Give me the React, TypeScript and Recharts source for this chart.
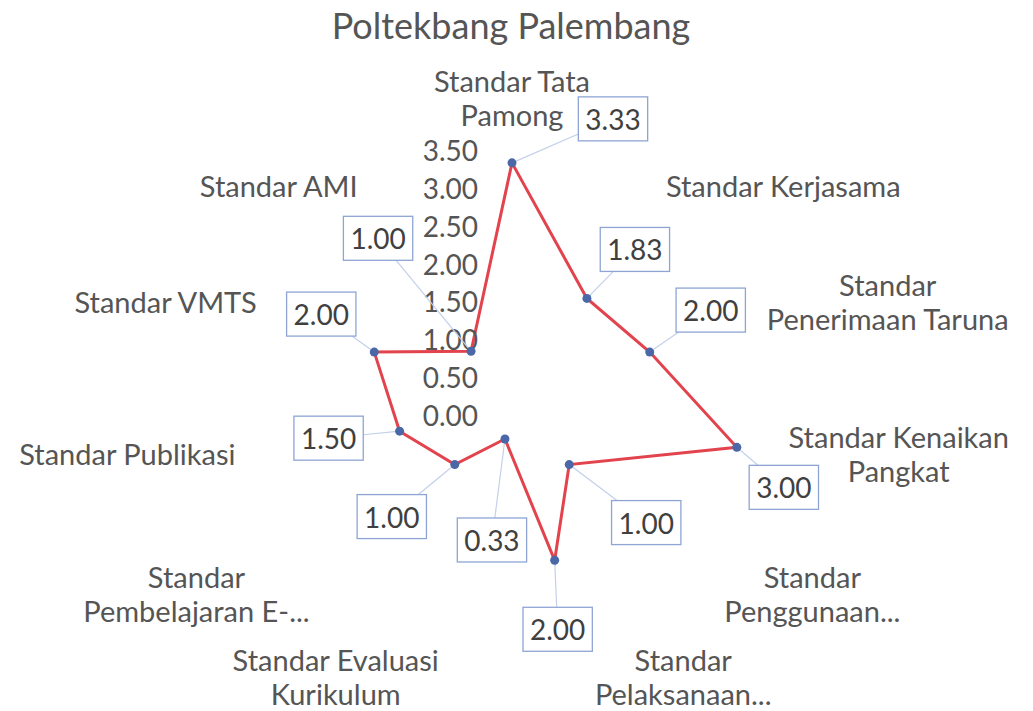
import { RadarChart, Radar, PolarAngleAxis, PolarRadiusAxis } from 'recharts'

const categories = [
  'Standar Tata\nPamong',
  'Standar Kerjasama',
  'Standar\nPenerimaan Taruna',
  'Standar Kenaikan\nPangkat',
  'Standar\nPenggunaan...',
  'Standar\nPelaksanaan...',
  'Standar Evaluasi\nKurikulum',
  'Standar\nPembelajaran E-...',
  'Standar Publikasi',
  'Standar VMTS',
  'Standar AMI',
]
const scores = [3.33, 1.83, 2.0, 3.0, 1.0, 2.0, 0.33, 1.0, 1.5, 2.0, 1.0]
const radiusTicks = [0, 0.5, 1, 1.5, 2, 2.5, 3, 3.5]

// data label boxes were dragged by hand in the original, offset from their point
const labelShift = [
  [101, -44], [48, -49], [61, -42], [47, 40], [77, 58], [3, 69],
  [-13, 101], [-63, 52], [-71, 7], [-53, -38], [-93, -113],
]

const data = categories.map((c, i) => ({ category: c, value: scores[i] }))

const CX = 512
const CY = 415
// recharts rounds the radius domain up to 4, so size the radius so 3.5 lands at 265px
const AXIS_MAX = 4
const R35 = 265
const OUTER = (R35 * AXIS_MAX) / 3.5
const LABEL_R = R35 + 8
const FONT = 'Lato, sans-serif'
const FS = 29
const GRAY = '#555555'

let ctx: CanvasRenderingContext2D | null = null
function textWidth(s: string, size: number) {
  if (!ctx) ctx = document.createElement('canvas').getContext('2d')
  if (!ctx) return s.length * size * 0.5
  ctx.font = `${size}px Lato`
  return ctx.measureText(s).width
}

function AngleTick(props: any) {
  const lines = String(props.payload.value).split('\n')
  // pull the label in from recharts' outer ring to just outside the 3.5 ring
  const ang = Math.atan2(props.y - CY, props.x - CX)
  const x = CX + LABEL_R * Math.cos(ang)
  const y = CY + LABEL_R * Math.sin(ang)
  const lh = 34
  const w = Math.max(...lines.map((l) => textWidth(l, FS)))
  const dx = x - CX
  const dy = y - CY
  let mid = x
  if (dx > 1) mid = x + 6 + w / 2
  else if (dx < -1) mid = x - 6 - w / 2
  if (dx < -1 && dy > 100) mid += 10
  let first = y - ((lines.length - 1) * lh) / 2
  if (Math.abs(dx) <= 1 && dy < 0) first = y - 28 - (lines.length - 1) * lh
  return (
    <g>
      {lines.map((l, i) => (
        <text
          key={i}
          x={mid}
          y={first + i * lh}
          textAnchor="middle"
          dominantBaseline="central"
          fontFamily={FONT}
          fontSize={FS}
          fill={GRAY}
        >
          {l}
        </text>
      ))}
    </g>
  )
}

function RadiusTick(props: any) {
  const { x, y, payload } = props
  return (
    <text
      x={x - 34}
      y={y}
      textAnchor="end"
      dominantBaseline="central"
      fontFamily={FONT}
      fontSize={28}
      fill={GRAY}
    >
      {Number(payload.value).toFixed(2)}
    </text>
  )
}

function PointMark(props: any) {
  const { cx, cy, index, payload } = props
  const value = payload && payload.value != null ? payload.value : props.value
  const [sx, sy] = labelShift[index]
  const bx = cx + sx
  const by = cy + sy
  const label = Number(value).toFixed(2)
  const bw = textWidth(label, 28) + 14
  const bh = 44
  const k = Math.min(bw / 2 / Math.abs(sx || 1e-6), bh / 2 / Math.abs(sy || 1e-6))
  const ex = bx - sx * k
  const ey = by - sy * k
  return (
    <g key={`pt-${index}`}>
      <line x1={cx} y1={cy} x2={ex} y2={ey} stroke="#c3d0ea" strokeWidth={1.2} />
      <rect
        x={bx - bw / 2}
        y={by - bh / 2}
        width={bw}
        height={bh}
        fill="#fff"
        stroke="#8ea5d4"
        strokeWidth={1.3}
      />
      <text
        x={bx}
        y={by}
        textAnchor="middle"
        dominantBaseline="central"
        fontFamily={FONT}
        fontSize={28}
        fill="#404040"
      >
        {label}
      </text>
      <circle cx={cx} cy={cy} r={4.5} fill="#4a67a8" />
    </g>
  )
}

export default function App() {
  return (
    <div style={{ position: 'absolute', left: 0, top: 0, width: 1033, height: 711, background: '#fff' }}>
      <svg width={1033} height={60} style={{ position: 'absolute', left: 0, top: 0 }}>
        <text x={511} y={39} textAnchor="middle" fontFamily={FONT} fontSize={36} fill={GRAY}>
          Poltekbang Palembang
        </text>
      </svg>
      <div style={{ position: 'absolute', left: 0, top: 0 }}>
        <RadarChart width={1033} height={711} data={data} cx={CX} cy={CY} outerRadius={OUTER} margin={{ top: 0, right: 0, bottom: 0, left: 0 }}>
          <PolarAngleAxis dataKey="category" tick={AngleTick} axisLine={false} tickLine={false} />
          <Radar
            dataKey="value"
            stroke="#e2434d"
            strokeWidth={3}
            fill="none"
            fillOpacity={0}
            dot={PointMark}
            isAnimationActive={false}
          />
          <PolarRadiusAxis
            angle={90}
            type="number"
            domain={[0, AXIS_MAX]}
            ticks={radiusTicks as any}
            axisLine={false}
            tick={RadiusTick}
          />
        </RadarChart>
      </div>
    </div>
  )
}
